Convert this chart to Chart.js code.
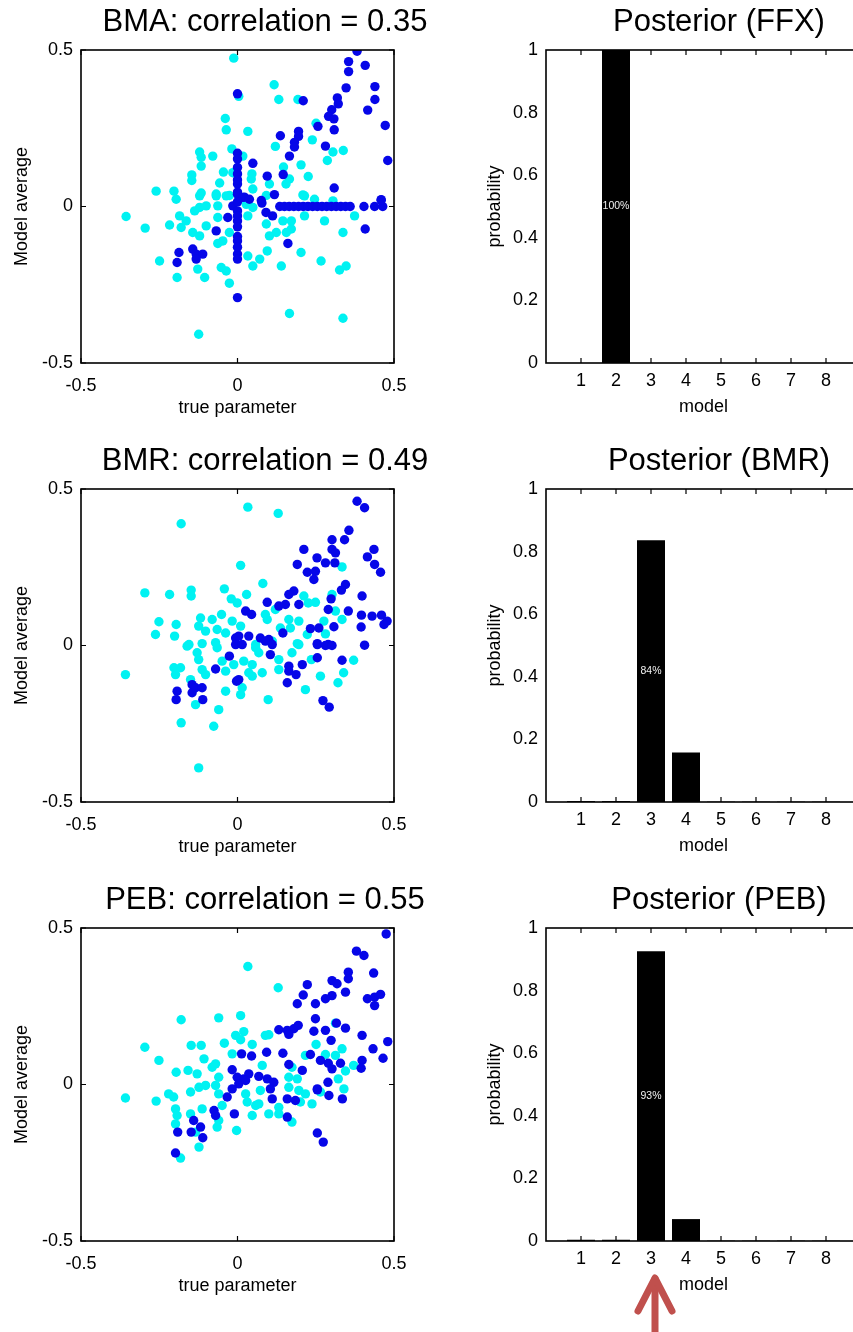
<!DOCTYPE html>
<html>
<head>
<meta charset="utf-8">
<script src="https://cdn.jsdelivr.net/npm/chart.js@4.4.1/dist/chart.umd.min.js"></script>
<style>
html, body { margin:0; padding:0; background:#fff; overflow:hidden; width:853px; height:1332px; }
canvas { position:absolute; }
</style>
</head>
<body>
<canvas id="s1" width="530" height="423" style="left:0;top:0"></canvas>
<canvas id="s2" width="530" height="423" style="left:0;top:439px"></canvas>
<canvas id="s3" width="530" height="423" style="left:0;top:878px"></canvas>
<canvas id="b1" width="498" height="423" style="left:470px;top:0"></canvas>
<canvas id="b2" width="498" height="423" style="left:470px;top:439px"></canvas>
<canvas id="b3" width="498" height="423" style="left:470px;top:878px"></canvas>
<svg width="60" height="70" style="position:absolute;left:625px;top:1262px">
<g stroke="#c0504d" stroke-width="7" stroke-linecap="round" stroke-linejoin="round" fill="none">
<line x1="30" y1="17" x2="30" y2="75"/>
<polyline points="13,49 30,16 47,49"/>
</g>
</svg>
<script>
// models and posterior probabilities
let models = [1, 2, 3, 4, 5, 6, 7, 8];
let postFFX = [0, 1, 0, 0, 0, 0, 0, 0];
let postBMR = [0.003, 0.003, 0.836, 0.158, 0.001, 0.001, 0.001, 0.001];
let postPEB = [0.004, 0.004, 0.926, 0.07, 0.001, 0.001, 0.001, 0.001];

let scatterTicks = [-0.5, 0, 0.5];
let probTicks = [0, 0.2, 0.4, 0.6, 0.8, 1];

// [true parameter, model average]
let bmaBlue = [[0.382,0.496],[0.355,0.463],[0.355,0.431],[0.408,0.451],[0.347,0.379],[0.439,0.383],[0.439,0.342],[0.319,0.347],[0.322,0.328],[0.416,0.308],[0.301,0.309],[0.291,0.288],[0.308,0.280],[0.257,0.256],[0.309,0.245],[0.472,0.259],[0.480,0.147],[0.195,0.240],[0.195,0.224],[0.137,0.226],[0.182,0.205],[0.182,0.190],[0.281,0.193],[0.166,0.161],[0,0.360],[0.210,0.338],[0,0.170],[0.049,0.138],[0,0.125],[0,0.104],[0.095,0.097],[0.146,0.102],[0,0.072],[0,0.046],[0.309,0.059],[0.118,0.038],[0.459,0.022],[0.022,0.030],[0.076,0.019],[0,0.039],[0.017,0.029],[0.038,0.023],[-0.015,0.002],[0,-0.014],[-0.031,-0.035],[0,-0.046],[0.078,0.011],[0.091,-0.019],[0.112,-0.030],[0.135,0],[0.15,0],[0.165,0],[0.18,0],[0.195,0],[0.21,0],[0.225,0],[0.24,0],[0.255,0],[0.27,0],[0.285,0],[0.30,0],[0.315,0],[0.33,0],[0.345,0],[0.36,0],[0.404,0],[0.438,0],[0.464,0],[0.459,0.020],[0.408,-0.072],[0.161,-0.118],[-0.068,-0.078],[0,-0.096],[0,-0.110],[0,-0.152],[0,-0.168],[-0.187,-0.147],[-0.193,-0.179],[-0.143,-0.136],[-0.132,-0.152],[-0.111,-0.152],[-0.132,-0.168],[0,-0.291],[0,0.015],[0,-0.03],[0,-0.065],[0,-0.13],[0,0.085],[0,0.152]];
let bmaCyan = [[-0.012,0.474],[0.117,0.389],[0.132,0.342],[0.004,0.352],[0.193,0.342],[-0.039,0.281],[-0.036,0.245],[0.033,0.240],[0.251,0.266],[0.239,0.213],[0.121,0.192],[-0.018,0.184],[0.017,0.161],[-0.121,0.174],[-0.116,0.157],[-0.079,0.161],[-0.116,0.129],[0.305,0.174],[0.338,0.179],[0.287,0.147],[0.203,0.133],[0.147,0.126],[-0.045,0.110],[-0.015,0.108],[0.046,0.104],[-0.146,0.101],[-0.146,0.083],[-0.057,0.075],[0.044,0.088],[0.102,0.072],[0.166,0.088],[0.155,0.072],[0.226,0.096],[-0.260,0.049],[-0.203,0.049],[-0.116,0.043],[-0.068,0.040],[-0.026,0.035],[0.049,0.056],[0.209,0.037],[0.092,0.035],[-0.196,0.023],[-0.121,0.034],[-0.068,0.034],[-0.036,0.034],[-0.356,-0.032],[-0.295,-0.069],[-0.217,-0.059],[-0.185,-0.030],[-0.180,-0.067],[-0.164,-0.046],[-0.137,-0.014],[-0.121,-0.003],[-0.100,0.002],[-0.100,-0.062],[-0.143,-0.083],[-0.121,-0.094],[-0.063,0.002],[-0.063,-0.035],[-0.063,-0.118],[-0.047,-0.110],[-0.026,-0.083],[0.033,-0.030],[0.049,-0.003],[0.028,0.007],[0.092,-0.056],[0.102,-0.094],[0.124,-0.083],[0.145,-0.046],[0.172,-0.046],[0.172,-0.072],[0.156,-0.083],[0.214,-0.030],[0.214,0.034],[0.246,0.023],[0.278,-0.046],[0.305,0.018],[0.337,-0.083],[0.374,-0.030],[0.033,-0.158],[0.049,-0.190],[0.071,-0.168],[0.095,-0.142],[0.203,-0.147],[0.267,-0.174],[0.140,-0.190],[0.326,-0.203],[0.347,-0.190],[-0.249,-0.174],[-0.193,-0.227],[-0.127,-0.200],[-0.105,-0.227],[-0.052,-0.195],[-0.036,-0.206],[-0.026,-0.245],[0.166,-0.342],[0.337,-0.357],[-0.124,-0.408]];

let bmrBlue = [[0.382,0.461],[0.406,0.440],[0.356,0.368],[0.302,0.338],[0.342,0.338],[0.212,0.307],[0.302,0.307],[0.313,0.296],[0.436,0.307],[0.415,0.283],[0.254,0.280],[0.281,0.264],[0.311,0.264],[0.191,0.259],[0.438,0.259],[0.457,0.234],[0.223,0.234],[0.249,0.237],[0.244,0.211],[0.345,0.195],[0.332,0.177],[0.180,0.174],[0.164,0.163],[0.398,0.158],[0.299,0.149],[0.095,0.138],[0.196,0.131],[0.132,0.126],[0.153,0.131],[0.026,0.110],[0.045,0.099],[0.290,0.115],[0.354,0.110],[0.396,0.097],[0.430,0.094],[0.460,0.097],[0.478,0.078],[0.468,0.067],[0.395,0.059],[0.233,0.054],[0.260,0.056],[0.308,0.060],[0.145,0.040],[-0.006,0.024],[0.004,0.030],[0.036,0.030],[0.073,0.024],[0.100,0.019],[0.255,0.006],[0.290,0.003],[0.406,0.001],[-0.006,0.003],[0.015,0.003],[0.089,0.014],[0.111,0.003],[0.105,-0.029],[-0.026,-0.034],[-0.070,-0.075],[-0.003,-0.114],[0.004,-0.109],[0.164,-0.066],[0.164,-0.082],[0.187,-0.093],[0.207,-0.061],[0.159,-0.119],[0.255,0.003],[0.281,0],[0.302,0],[0.255,-0.039],[0.334,-0.047],[-0.193,-0.146],[-0.196,-0.173],[-0.145,-0.125],[-0.145,-0.151],[-0.134,-0.135],[-0.113,-0.135],[-0.111,-0.173],[0.273,-0.176],[0.293,-0.197]];
let bmrCyan = [[0.033,0.442],[0.130,0.422],[-0.180,0.389],[0.010,0.256],[0.334,0.251],[0.081,0.198],[-0.296,0.168],[-0.217,0.163],[-0.148,0.177],[-0.148,0.158],[-0.042,0.181],[-0.020,0.149],[0.029,0.163],[-0.001,0.136],[0.212,0.158],[0.249,0.138],[0.302,0.163],[0.226,0.136],[-0.251,0.076],[-0.262,0.035],[-0.196,0.067],[-0.201,0.030],[-0.118,0.088],[-0.124,0.062],[-0.102,0.046],[-0.081,0.083],[-0.051,0.099],[-0.065,0.051],[-0.038,0.040],[-0.017,0.078],[0.010,0.062],[0.089,0.099],[0.095,0.083],[0.121,0.115],[0.137,0.056],[0.164,0.083],[0.169,0.056],[0.196,0.078],[0.223,0.035],[0.281,0.037],[0.313,0.110],[0.334,0.083],[0.276,0.078],[-0.155,0.003],[-0.113,0.006],[-0.070,0.009],[0.058,0.003],[0.111,0.014],[0.191,0.006],[-0.358,-0.093],[-0.203,-0.071],[-0.182,-0.071],[-0.198,-0.093],[-0.161,-0.002],[-0.129,-0.023],[-0.124,-0.045],[-0.113,-0.077],[-0.102,-0.093],[-0.150,-0.109],[-0.134,-0.189],[-0.060,-0.205],[-0.038,-0.146],[0.010,-0.157],[0.015,-0.135],[-0.065,-0.007],[-0.049,-0.050],[-0.038,-0.082],[-0.012,-0.061],[0.020,-0.050],[0.047,-0.061],[0.036,-0.087],[0.047,-0.098],[0.079,-0.087],[0.068,-0.023],[0.058,-0.007],[0.132,-0.045],[0.132,-0.077],[0.174,-0.023],[0.196,0.003],[0.217,-0.141],[0.265,-0.098],[0.236,-0.045],[0.321,-0.119],[0.339,-0.087],[0.371,-0.047],[0.098,-0.173],[-0.180,-0.247],[-0.076,-0.258],[-0.124,-0.391]];

let pebBlue = [[0.475,0.481],[0.380,0.426],[0.404,0.412],[0.354,0.359],[0.354,0.338],[0.435,0.356],[0.302,0.332],[0.318,0.322],[0.223,0.319],[0.210,0.286],[0.345,0.295],[0.302,0.284],[0.281,0.274],[0.415,0.274],[0.438,0.279],[0.457,0.288],[0.438,0.252],[0.249,0.258],[0.191,0.258],[0.249,0.210],[0.316,0.196],[0.345,0.180],[0.132,0.175],[0.159,0.173],[0.180,0.178],[0.194,0.189],[0.164,0.160],[0.244,0.170],[0.281,0.173],[0.398,0.157],[0.299,0.141],[0.480,0.137],[0.433,0.114],[0.465,0.084],[0.398,0.077],[0.395,0.052],[0.013,0.098],[0.045,0.091],[0.093,0.103],[0.145,0.100],[0.233,0.096],[0.265,0.077],[0.290,0.068],[0.329,0.068],[0.302,0.050],[0.164,0.064],[0.207,0.045],[-0.017,0.047],[-0.001,0.023],[0.020,0.018],[0.036,0.034],[0.068,0.026],[0.095,0.018],[0.116,0.007],[0.289,0.007],[0.255,-0.014],[0.004,0.002],[-0.017,-0.014],[-0.033,-0.040],[0.026,0.013],[0.105,-0.014],[0.111,-0.046],[0.159,-0.046],[0.185,-0.051],[0.255,-0.017],[0.292,-0.035],[0.335,-0.046],[-0.075,-0.083],[-0.070,-0.099],[-0.010,-0.094],[0.159,-0.104],[-0.140,-0.115],[-0.118,-0.136],[-0.148,-0.152],[-0.191,-0.152],[-0.111,-0.170],[0.255,-0.155],[0.274,-0.184],[-0.198,-0.219]];
let pebCyan = [[0.033,0.377],[0.130,0.309],[-0.180,0.207],[-0.060,0.213],[0.010,0.220],[-0.296,0.119],[-0.251,0.077],[-0.196,0.039],[-0.158,0.045],[-0.148,0.125],[-0.116,0.125],[-0.107,0.082],[-0.042,0.132],[-0.006,0.157],[0.020,0.169],[0.010,0.143],[0.047,0.128],[0.089,0.157],[0.100,0.159],[-0.017,0.098],[-0.070,0.066],[-0.081,0.055],[-0.129,0.034],[0.079,0.061],[0.174,0.055],[0.217,0.093],[0.251,0.128],[0.281,0.096],[0.313,0.093],[0.334,0.114],[0.313,0.196],[0.371,0.061],[0.345,0.043],[0.322,0.018],[0.191,0.018],[0.164,0.023],[-0.060,0.023],[-0.358,-0.043],[-0.260,-0.053],[-0.220,-0.030],[-0.204,-0.040],[-0.198,-0.078],[-0.193,-0.099],[-0.198,-0.126],[-0.182,-0.235],[-0.150,-0.024],[-0.123,-0.009],[-0.102,-0.003],[-0.150,-0.094],[-0.134,-0.152],[-0.123,-0.200],[-0.113,-0.078],[-0.070,-0.003],[-0.060,-0.030],[-0.049,-0.067],[-0.060,-0.115],[-0.065,-0.136],[-0.003,-0.147],[0.026,-0.030],[0.031,-0.056],[0.047,-0.099],[0.058,-0.067],[0.068,-0.062],[0.073,-0.019],[0.100,-0.094],[0.132,-0.073],[0.132,-0.094],[0.174,-0.120],[0.164,-0.009],[0.196,-0.019],[0.217,-0.030],[0.201,-0.056],[0.238,-0.062],[0.265,-0.024],[0.340,-0.014]];

const CYAN = '#00f2f2';
const BLUE = '#0606e8';
const FONT = '"Liberation Sans", Arial, sans-serif';

Chart.defaults.font.family = FONT;
Chart.defaults.color = '#000';

// MATLAB-like box with inward tick marks
const boxPlugin = {
  id: 'box',
  afterDatasetsDraw(chart, args, opts) {
    let ctx = chart.ctx;
    let a = chart.chartArea;
    let sx = chart.scales.x, sy = chart.scales.y;
    ctx.save();
    ctx.strokeStyle = '#000';
    ctx.lineWidth = 1.6;
    ctx.strokeRect(a.left, a.top, a.right - a.left, a.bottom - a.top);
    ctx.beginPath();
    sx.ticks.forEach(function(t){
      if (t.label === '') return;
      let px = sx.getPixelForValue(t.value);
      ctx.moveTo(px, a.bottom); ctx.lineTo(px, a.bottom - 5);
      ctx.moveTo(px, a.top); ctx.lineTo(px, a.top + 5);
    });
    if (opts.yTicks) {
      sy.ticks.forEach(function(t){
        let py = sy.getPixelForValue(t.value);
        ctx.moveTo(a.left, py); ctx.lineTo(a.left + 5, py);
        ctx.moveTo(a.right, py); ctx.lineTo(a.right - 5, py);
      });
    }
    ctx.lineWidth = 1.2;
    ctx.stroke();
    ctx.restore();
  }
};

// percentage label inside the winning bar
const pctPlugin = {
  id: 'pct',
  afterDatasetsDraw(chart) {
    let ctx = chart.ctx;
    let meta = chart.getDatasetMeta(0);
    let vals = chart.data.datasets[0].data;
    ctx.save();
    ctx.fillStyle = '#f0f0f0';
    ctx.font = '10.5px ' + FONT;
    ctx.textAlign = 'center';
    ctx.textBaseline = 'middle';
    meta.data.forEach(function(bar, i){
      let v = vals[i].y;
      if (v > 0.5) ctx.fillText(Math.round(v * 100) + '%', bar.x, (bar.y + bar.base) / 2);
    });
    ctx.restore();
  }
};

function dummyRight(w) {
  return {
    position: 'right', display: true,
    grid: { display: false, drawTicks: false }, border: { display: false },
    ticks: { display: false },
    afterFit: function(s){ s.width = w; }
  };
}

function scatterChart(id, title, cyan, blue) {
  new Chart(document.getElementById(id), {
    type: 'scatter',
    data: {
      datasets: [
        { data: blue.map(p => ({x: p[0], y: p[1]})), backgroundColor: BLUE, borderWidth: 0, pointRadius: 4.7 },
        { data: cyan.map(p => ({x: p[0], y: p[1]})), backgroundColor: CYAN, borderWidth: 0, pointRadius: 4.7 }
      ]
    },
    options: {
      responsive: false, animation: false, events: [],
      layout: { padding: 0 },
      plugins: {
        legend: { display: false }, tooltip: { enabled: false },
        title: { display: true, text: title, font: { size: 31, weight: 'normal' }, color: '#000', padding: { top: 4, bottom: 8.8 } },
        box: { yTicks: true }
      },
      scales: {
        x: {
          type: 'linear', min: -0.5, max: 0.5,
          grid: { display: false, drawTicks: false }, border: { display: false },
          ticks: { stepSize: 0.5, padding: 12, font: { size: 18 }, callback: v => scatterTicks.includes(v) ? v : '' },
          title: { display: true, text: 'true parameter', font: { size: 18 }, padding: { top: 0, bottom: 4 } },
          afterFit: function(s){ s.height = 60; }
        },
        y: {
          type: 'linear', min: -0.5, max: 0.5,
          grid: { display: false, drawTicks: false }, border: { display: false },
          ticks: { stepSize: 0.5, padding: 8, font: { size: 18 } },
          title: { display: true, text: 'Model average', font: { size: 18 }, padding: { top: 11, bottom: 0 } },
          afterFit: function(s){ s.width = 81; }
        },
        yR: dummyRight(136)
      }
    },
    plugins: [boxPlugin]
  });
}

function barChart(id, title, post) {
  new Chart(document.getElementById(id), {
    type: 'bar',
    data: {
      datasets: [{
        data: models.map((m, i) => ({x: m, y: post[i]})),
        backgroundColor: '#000', borderWidth: 0,
        barPercentage: 1, categoryPercentage: 0.8
      }]
    },
    options: {
      responsive: false, animation: false, events: [],
      layout: { padding: 0 },
      plugins: {
        legend: { display: false }, tooltip: { enabled: false },
        title: { display: true, text: title, font: { size: 31, weight: 'normal' }, color: '#000', padding: { top: 4, bottom: 8.8 } },
        box: { yTicks: false }
      },
      scales: {
        x: {
          type: 'linear', min: 0, max: 9, offset: false,
          grid: { display: false, drawTicks: false, offset: false }, border: { display: false },
          ticks: { stepSize: 1, padding: 7, font: { size: 18 }, callback: v => models.includes(v) ? v : '' },
          title: { display: true, text: 'model', font: { size: 18 }, padding: { top: 0, bottom: 5 } },
          afterFit: function(s){ s.height = 60; }
        },
        y: {
          type: 'linear', min: 0, max: 1,
          grid: { display: false, drawTicks: false }, border: { display: false },
          ticks: { stepSize: 0.2, padding: 8, font: { size: 18 }, callback: v => probTicks.includes(Math.round(v * 10) / 10) ? Math.round(v * 10) / 10 : '' },
          title: { display: true, text: 'probability', font: { size: 18 }, padding: { top: 14, bottom: 0 } },
          afterFit: function(s){ s.width = 76; }
        },
        yR: dummyRight(107)
      }
    },
    plugins: [boxPlugin, pctPlugin]
  });
}

scatterChart('s1', 'BMA: correlation = 0.35', bmaCyan, bmaBlue);
scatterChart('s2', 'BMR: correlation = 0.49', bmrCyan, bmrBlue);
scatterChart('s3', 'PEB: correlation = 0.55', pebCyan, pebBlue);
barChart('b1', 'Posterior (FFX)', postFFX);
barChart('b2', 'Posterior (BMR)', postBMR);
barChart('b3', 'Posterior (PEB)', postPEB);
</script>
</body>
</html>
